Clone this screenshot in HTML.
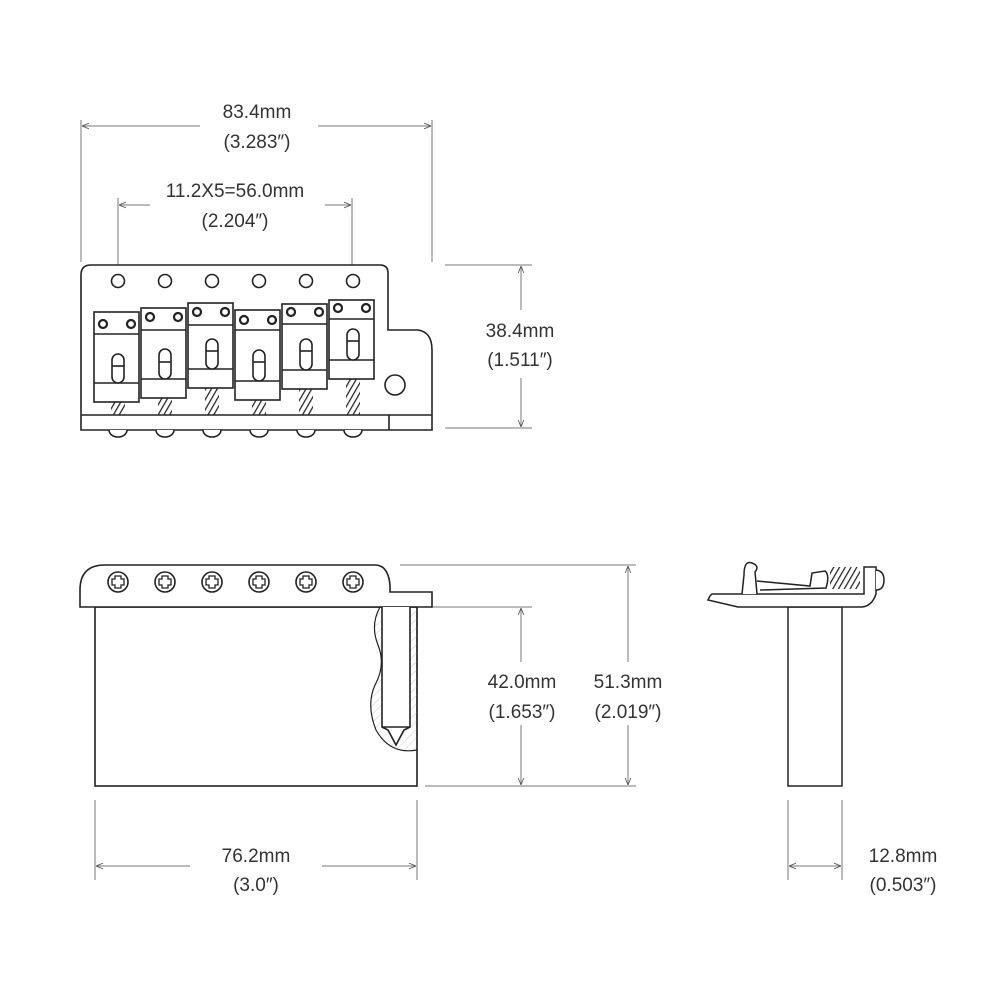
<!DOCTYPE html>
<html><head><meta charset="utf-8"><style>
html,body{margin:0;padding:0;background:#fff}
svg{display:block}
text{font-family:"Liberation Sans",sans-serif;font-size:19px;fill:#333;text-anchor:middle}
</style></head><body>
<svg width="1000" height="1000" viewBox="0 0 1000 1000" xmlns="http://www.w3.org/2000/svg">
<defs>
<marker id="a" viewBox="0 0 10 10" refX="10" refY="5" markerWidth="7" markerHeight="7" orient="auto-start-reverse"><path d="M0,1 L10,5 L0,9" fill="none" stroke="#555" stroke-width="1.2"/></marker>
<pattern id="h" width="5" height="5" patternUnits="userSpaceOnUse" patternTransform="rotate(30)"><line x1="0" y1="0" x2="0" y2="5" stroke="#222" stroke-width="2.5"/></pattern>
<pattern id="hh" width="6" height="6" patternUnits="userSpaceOnUse" patternTransform="rotate(45)"><line x1="0" y1="0" x2="0" y2="6" stroke="#ccc" stroke-width="1"/></pattern>
</defs>
<g stroke="#777" stroke-width="1" fill="none">
<!-- top dims -->
<line x1="81" y1="120" x2="81" y2="262"/><line x1="432" y1="120" x2="432" y2="262"/>
<line x1="82" y1="126" x2="200" y2="126" marker-start="url(#a)"/><line x1="318" y1="126" x2="431" y2="126" marker-end="url(#a)"/>
<line x1="118" y1="198" x2="118" y2="272"/><line x1="352" y1="198" x2="352" y2="272"/>
<line x1="119" y1="205" x2="150" y2="205" marker-start="url(#a)"/><line x1="325" y1="205" x2="351" y2="205" marker-end="url(#a)"/>
<line x1="445" y1="265" x2="532" y2="265"/><line x1="445" y1="428" x2="532" y2="428"/>
<line x1="521" y1="266" x2="521" y2="310" marker-start="url(#a)"/><line x1="521" y1="378" x2="521" y2="427" marker-end="url(#a)"/>
<!-- front dims -->
<line x1="400" y1="565" x2="636" y2="565"/><line x1="425" y1="786" x2="636" y2="786"/>
<line x1="425" y1="607" x2="532" y2="607"/>
<line x1="628" y1="566" x2="628" y2="662" marker-start="url(#a)"/><line x1="628" y1="725" x2="628" y2="785" marker-end="url(#a)"/>
<line x1="521" y1="608" x2="521" y2="662" marker-start="url(#a)"/><line x1="521" y1="725" x2="521" y2="785" marker-end="url(#a)"/>
<line x1="95" y1="800" x2="95" y2="880"/><line x1="417" y1="800" x2="417" y2="880"/>
<line x1="96" y1="866" x2="190" y2="866" marker-start="url(#a)"/><line x1="322" y1="866" x2="416" y2="866" marker-end="url(#a)"/>
<line x1="788" y1="800" x2="788" y2="880"/><line x1="842" y1="800" x2="842" y2="880"/>
<line x1="789" y1="866" x2="841" y2="866" marker-end="url(#a)" marker-start="url(#a)"/>
</g>
<text x="257" y="118">83.4mm</text><text x="257" y="148">(3.283″)</text>
<text x="235" y="197">11.2X5=56.0mm</text><text x="235" y="227">(2.204″)</text>
<text x="520" y="337">38.4mm</text><text x="520" y="366">(1.511″)</text>
<text x="522" y="688">42.0mm</text><text x="522" y="718">(1.653″)</text>
<text x="628" y="688">51.3mm</text><text x="628" y="718">(2.019″)</text>
<text x="256" y="862">76.2mm</text><text x="256" y="891">(3.0″)</text>
<text x="903" y="862">12.8mm</text><text x="903" y="891">(0.503″)</text>

<g stroke="#222" stroke-width="1.6" fill="#fff">
<!-- top view plate -->
<path d="M81,415 L81,275 Q81,265 91,265 L380,265 Q388,265 388,273 L388,330 L418,330 Q432,332 432,350 L432,430 L81,430 Z"/>
<line x1="81" y1="415" x2="432" y2="415"/><line x1="389" y1="415" x2="389" y2="430"/>
<g id="sv">
<circle cx="118" cy="281" r="6.5"/>
<path d="M109,430 a9,7 0 0 0 18,0"/>
</g>
<use href="#sv" x="47"/><use href="#sv" x="94"/><use href="#sv" x="141"/><use href="#sv" x="188"/><use href="#sv" x="235"/>
<circle cx="395" cy="385" r="10"/>
</g>
<g stroke="#222" stroke-width="1.6">
<!-- saddles: x offset, top y -->
<g transform="translate(0,0)">
<rect x="111" y="402" width="14" height="13" fill="url(#h)" stroke="none"/>
<rect x="94" y="312" width="45" height="90" fill="#fff"/><line x1="94" y1="334" x2="139" y2="334"/><line x1="94" y1="383" x2="139" y2="383"/>
<circle cx="103" cy="324" r="4" fill="#fff" stroke-width="2.2"/><circle cx="131" cy="324" r="4" fill="#fff" stroke-width="2.2"/>
<rect x="112" y="354" width="12" height="29" rx="6" fill="#fff"/><line x1="112" y1="366" x2="124" y2="366"/>
</g>
<g transform="translate(47,-4)">
<rect x="111" y="402" width="14" height="17" fill="url(#h)" stroke="none"/>
<rect x="94" y="312" width="45" height="90" fill="#fff"/><line x1="94" y1="334" x2="139" y2="334"/><line x1="94" y1="383" x2="139" y2="383"/>
<circle cx="103" cy="321" r="4" fill="#fff" stroke-width="2.2"/><circle cx="131" cy="321" r="4" fill="#fff" stroke-width="2.2"/>
<rect x="112" y="353" width="12" height="30" rx="6" fill="#fff"/><line x1="112" y1="366" x2="124" y2="366"/>
</g>
<g transform="translate(94,-9)">
<rect x="111" y="397" width="14" height="27" fill="url(#h)" stroke="none"/>
<rect x="94" y="312" width="45" height="85" fill="#fff"/><line x1="94" y1="334" x2="139" y2="334"/><line x1="94" y1="378" x2="139" y2="378"/>
<circle cx="103" cy="321" r="4" fill="#fff" stroke-width="2.2"/><circle cx="131" cy="321" r="4" fill="#fff" stroke-width="2.2"/>
<rect x="112" y="348" width="12" height="30" rx="6" fill="#fff"/><line x1="112" y1="360" x2="124" y2="360"/>
</g>
<g transform="translate(141,-2)">
<rect x="111" y="402" width="14" height="15" fill="url(#h)" stroke="none"/>
<rect x="94" y="312" width="45" height="90" fill="#fff"/><line x1="94" y1="332" x2="139" y2="332"/><line x1="94" y1="383" x2="139" y2="383"/>
<circle cx="103" cy="322" r="4" fill="#fff" stroke-width="2.2"/><circle cx="131" cy="322" r="4" fill="#fff" stroke-width="2.2"/>
<rect x="112" y="352" width="12" height="31" rx="6" fill="#fff"/><line x1="112" y1="364" x2="124" y2="364"/>
</g>
<g transform="translate(188,-8)">
<rect x="111" y="397" width="14" height="26" fill="url(#h)" stroke="none"/>
<rect x="94" y="312" width="45" height="85" fill="#fff"/><line x1="94" y1="332" x2="139" y2="332"/><line x1="94" y1="378" x2="139" y2="378"/>
<circle cx="103" cy="320" r="4" fill="#fff" stroke-width="2.2"/><circle cx="131" cy="320" r="4" fill="#fff" stroke-width="2.2"/>
<rect x="112" y="347" width="12" height="31" rx="6" fill="#fff"/><line x1="112" y1="359" x2="124" y2="359"/>
</g>
<g transform="translate(235,-12)">
<rect x="111" y="391" width="14" height="36" fill="url(#h)" stroke="none"/>
<rect x="94" y="312" width="45" height="79" fill="#fff"/><line x1="94" y1="331" x2="139" y2="331"/><line x1="94" y1="372" x2="139" y2="372"/>
<circle cx="103" cy="320" r="4" fill="#fff" stroke-width="2.2"/><circle cx="131" cy="320" r="4" fill="#fff" stroke-width="2.2"/>
<rect x="112" y="341" width="12" height="31" rx="6" fill="#fff"/><line x1="112" y1="353" x2="124" y2="353"/>
</g>
</g>

<!-- front view -->
<g stroke="#222" stroke-width="1.6" fill="#fff">
<rect x="95" y="607" width="322" height="179"/>
<path d="M80,607 L80,590 Q80,565 105,565 L375,565 Q388,565 390,585 L390,592 L432,592 L432,607 Z"/>
<path d="M380,607 Q370,625 378,645 Q386,665 375,685 Q366,705 376,730 Q390,755 417,750 L417,607 Z" fill="url(#hh)" stroke-width="1.2"/>
<path d="M382,607 L382,727 L388,730 L396,745 L404,730 L410,727 L410,607" fill="#fff"/>
<line x1="382" y1="727" x2="410" y2="727"/>
<g id="scr"><circle cx="118" cy="582" r="10"/><path d="M115,576 h6 v3 h3 v6 h-3 v3 h-6 v-3 h-3 v-6 h3 z" stroke-width="1.3"/></g>
<use href="#scr" x="47"/><use href="#scr" x="94"/><use href="#scr" x="141"/><use href="#scr" x="188"/><use href="#scr" x="235"/>
</g>

<!-- side view -->
<g stroke="#222" stroke-width="1.5" fill="#fff">
<rect x="788" y="607" width="54" height="179"/>
<path d="M710,596 L708,600 L738,607 L862,607 Q872,606 876,594 L876,567 L864,567 L864,594 L712,594 Z"/>
<path d="M742,594 L744,575 Q744,560 752,563 Q760,566 755,572 L757,594"/>
<path d="M757,581 L810,586 L812,573 L825,571 Q830,575 826,588 L760,590"/>
<rect x="830" y="567" width="30" height="22" fill="url(#h)" stroke="none"/>
<path d="M876,570 Q884,571 884,580 Q884,590 876,590"/>
</g>
</svg>
</body></html>
